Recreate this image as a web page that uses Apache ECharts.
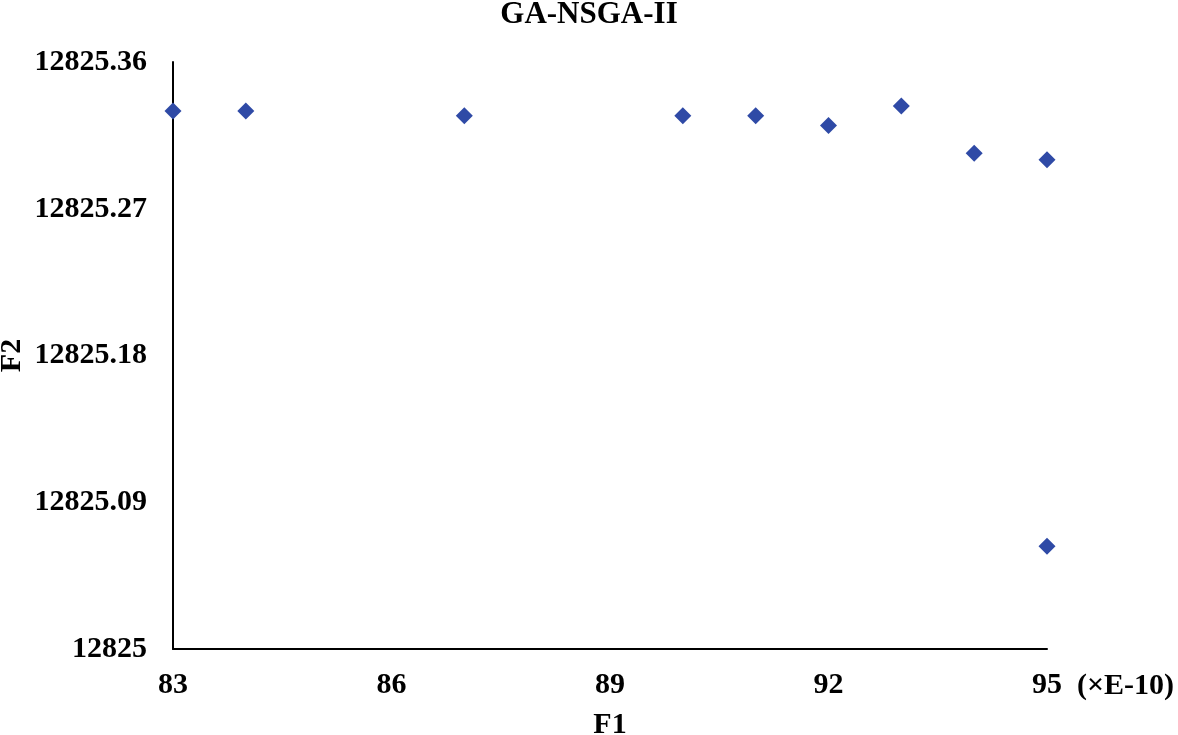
<!DOCTYPE html>
<html>
<head>
<meta charset="utf-8">
<script src="https://cdn.jsdelivr.net/npm/echarts@6/dist/echarts.min.js"></script>
<style>html,body{margin:0;padding:0;background:#fff;}#c{width:1178px;height:735px;}</style>
</head>
<body>
<div id="c"></div>
<script>
const titleText = 'GA-NSGA-II';
const xName = 'F1';
const yName = 'F2';
const xUnit = '(×E-10)';
const f1Values = [83, 84, 87, 90, 91, 92, 93, 94, 95, 95];
const f2Values = [12825.330, 12825.330, 12825.327, 12825.327, 12825.327, 12825.321, 12825.333, 12825.304, 12825.300, 12825.063];
const yTicks = [12825, 12825.09, 12825.18, 12825.27, 12825.36];

const font = '"Liberation Serif", "Times New Roman", serif';
const data = f1Values.map((x, i) => [x, f2Values[i]]);
const chart = echarts.init(document.getElementById('c'), null, {renderer: 'canvas'});
chart.setOption({
  backgroundColor: '#ffffff',
  animation: false,
  title: {
    text: titleText, left: 'center', top: -6,
    textStyle: {fontFamily: font, fontWeight: 'bold', fontSize: 31, color: '#000'}
  },
  grid: {left: 173, right: 131, top: 62, bottom: 86, containLabel: false, outerBoundsMode: 'none'},
  xAxis: {
    type: 'value', min: 83, max: 95, interval: 3,
    name: xName, nameLocation: 'middle', nameGap: 61, nameMoveOverlap: false,
    nameTextStyle: {fontFamily: font, fontWeight: 'bold', fontSize: 30, color: '#000'},
    axisLine: {show: true, lineStyle: {color: '#000', width: 2}},
    axisTick: {show: false},
    splitLine: {show: false},
    axisLabel: {margin: 21, fontFamily: font, fontWeight: 'bold', fontSize: 30, color: '#000'}
  },
  yAxis: {
    type: 'value', min: 12825, max: 12825.36, interval: 0.09,
    name: yName, nameLocation: 'middle', nameGap: 146, nameMoveOverlap: false,
    nameTextStyle: {fontFamily: font, fontWeight: 'bold', fontSize: 30, color: '#000'},
    axisLine: {show: true, lineStyle: {color: '#000', width: 2}},
    axisTick: {show: false},
    splitLine: {show: false},
    axisLabel: {
      margin: 26, fontFamily: font, fontWeight: 'bold', fontSize: 30, color: '#000',
      formatter: v => {
        const t = yTicks.find(t => Math.abs(t - v) < 1e-6);
        return t === undefined ? '' : String(t);
      }
    }
  },
  graphic: [{
    type: 'text', left: 1077, top: 671,
    style: {text: xUnit, font: 'bold 30px ' + font, fill: '#000'}
  }],
  series: [{
    type: 'scatter', data: data,
    symbol: 'diamond', symbolSize: [17, 17],
    itemStyle: {color: '#2F4AA6', opacity: 1}
  }]
});
</script>
</body>
</html>
